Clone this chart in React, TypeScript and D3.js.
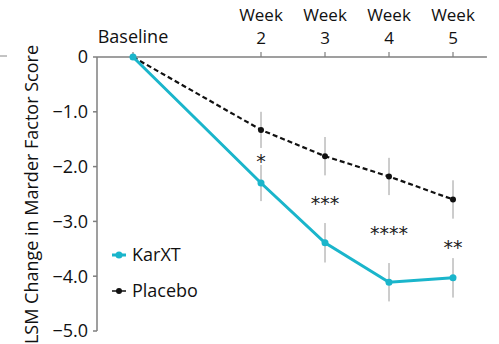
import React from "react";
import * as d3 from "d3";

// weeks since baseline
const weeks = [0, 2, 3, 4, 5];
const karxt = [0, -2.3, -3.39, -4.11, -4.03];
const karxtErr = [0, 0.33, 0.36, 0.35, 0.36];
const placebo = [0, -1.33, -1.81, -2.18, -2.6];
const placeboErr = [0, 0.33, 0.35, 0.34, 0.35];
const stars = ["", "*", "***", "****", "**"];
const starY = [0, -1.85, -2.62, -3.17, -3.43];
const yTicks = [0, -1, -2, -3, -4, -5];

const W = 499;
const H = 344;
const font = "'Open Sans', sans-serif";

export default function App() {
  const x = d3.scaleLinear().domain([0, 5]).range([133, 453]);
  const y = d3.scaleLinear().domain([0, -5]).range([57, 331]);
  const axisLeft = 97;
  const axisRight = x(5.53);

  const line = d3
    .line<number>()
    .x((_, i) => x(weeks[i]))
    .y((d) => y(d));

  const fmt = (v: number) => (v === 0 ? "0" : d3.format(".1f")(v));

  return (
    <div style={{ position: "fixed", left: 0, top: 0, width: W, height: H, overflow: "hidden" }}>
      <svg width={W} height={H} style={{ display: "block", background: "#fff" }} fontFamily={font}>
        {/* stray mark top-left */}
        <line x1={0} x2={7} y1={56} y2={56} stroke="#888" strokeWidth={1} />

        {/* y axis */}
        <line x1={axisLeft} x2={axisLeft} y1={y(0)} y2={y(-5)} stroke="#7f7f7f" strokeWidth={1.5} />
        {yTicks.map((t) => (
          <g key={t}>
            <line x1={axisLeft - 4} x2={axisLeft} y1={y(t)} y2={y(t)} stroke="#7f7f7f" strokeWidth={1.5} />
            <text x={axisLeft - 9} y={y(t)} dy="0.36em" textAnchor="end" fontSize={18} fill="#111">
              {fmt(t)}
            </text>
          </g>
        ))}
        <text transform={`translate(38,45) rotate(-90)`} textAnchor="end" fontSize={18} fill="#111">
          LSM Change in Marder Factor Score
        </text>

        {/* top x axis */}
        <line x1={axisLeft} x2={axisRight} y1={y(0)} y2={y(0)} stroke="#7f7f7f" strokeWidth={1.5} />
        {weeks.map((w) => (
          <line key={w} x1={x(w)} x2={x(w)} y1={y(0) - 5} y2={y(0)} stroke="#7f7f7f" strokeWidth={1.2} />
        ))}
        {weeks.map((w) =>
          w === 0 ? (
            <text key={w} x={x(w)} y={43} textAnchor="middle" fontSize={18} fill="#111">
              Baseline
            </text>
          ) : (
            <g key={w}>
              <text x={x(w)} y={21} textAnchor="middle" fontSize={17} fill="#111">
                Week
              </text>
              <text x={x(w)} y={44} textAnchor="middle" fontSize={17} fill="#111">
                {w}
              </text>
            </g>
          )
        )}

        {/* error bars */}
        {weeks.map((w, i) =>
          i === 0 ? null : (
            <g key={w} stroke="#9a9a9a" strokeWidth={1}>
              <line x1={x(w)} x2={x(w)} y1={y(placebo[i] + placeboErr[i])} y2={y(placebo[i] - placeboErr[i])} />
              <line x1={x(w)} x2={x(w)} y1={y(karxt[i] + karxtErr[i])} y2={y(karxt[i] - karxtErr[i])} />
            </g>
          )
        )}

        {/* placebo */}
        <path d={line(placebo) || ""} fill="none" stroke="#111" strokeWidth={2.2} strokeDasharray="5,3" />
        {placebo.map((v, i) => (
          <circle key={i} cx={x(weeks[i])} cy={y(v)} r={3} fill="#111" />
        ))}

        {/* KarXT */}
        <path d={line(karxt) || ""} fill="none" stroke="#1ab5cb" strokeWidth={3} />
        {karxt.map((v, i) => (
          <circle key={i} cx={x(weeks[i])} cy={y(v)} r={3.5} fill="#1ab5cb" />
        ))}

        {/* significance */}
        {weeks.map((w, i) =>
          stars[i] ? (
            <text
              key={w}
              x={x(w)}
              y={y(starY[i])}
              dy="0.5em"
              textAnchor="middle"
              fontSize={19}
              fontFamily="'DejaVu Sans', sans-serif"
              fill="#222"
            >
              {stars[i]}
            </text>
          ) : null
        )}

        {/* legend */}
        <g>
          <line x1={112} x2={126} y1={255} y2={255} stroke="#1ab5cb" strokeWidth={3} />
          <circle cx={119} cy={255} r={3.5} fill="#1ab5cb" />
          <text x={132} y={255} dy="0.36em" fontSize={18} fill="#111">KarXT</text>
          <line x1={112} x2={126} y1={291} y2={291} stroke="#111" strokeWidth={1.5} />
          <circle cx={119} cy={291} r={3} fill="#111" />
          <text x={132} y={291} dy="0.36em" fontSize={18} fill="#111">Placebo</text>
        </g>
      </svg>
    </div>
  );
}
